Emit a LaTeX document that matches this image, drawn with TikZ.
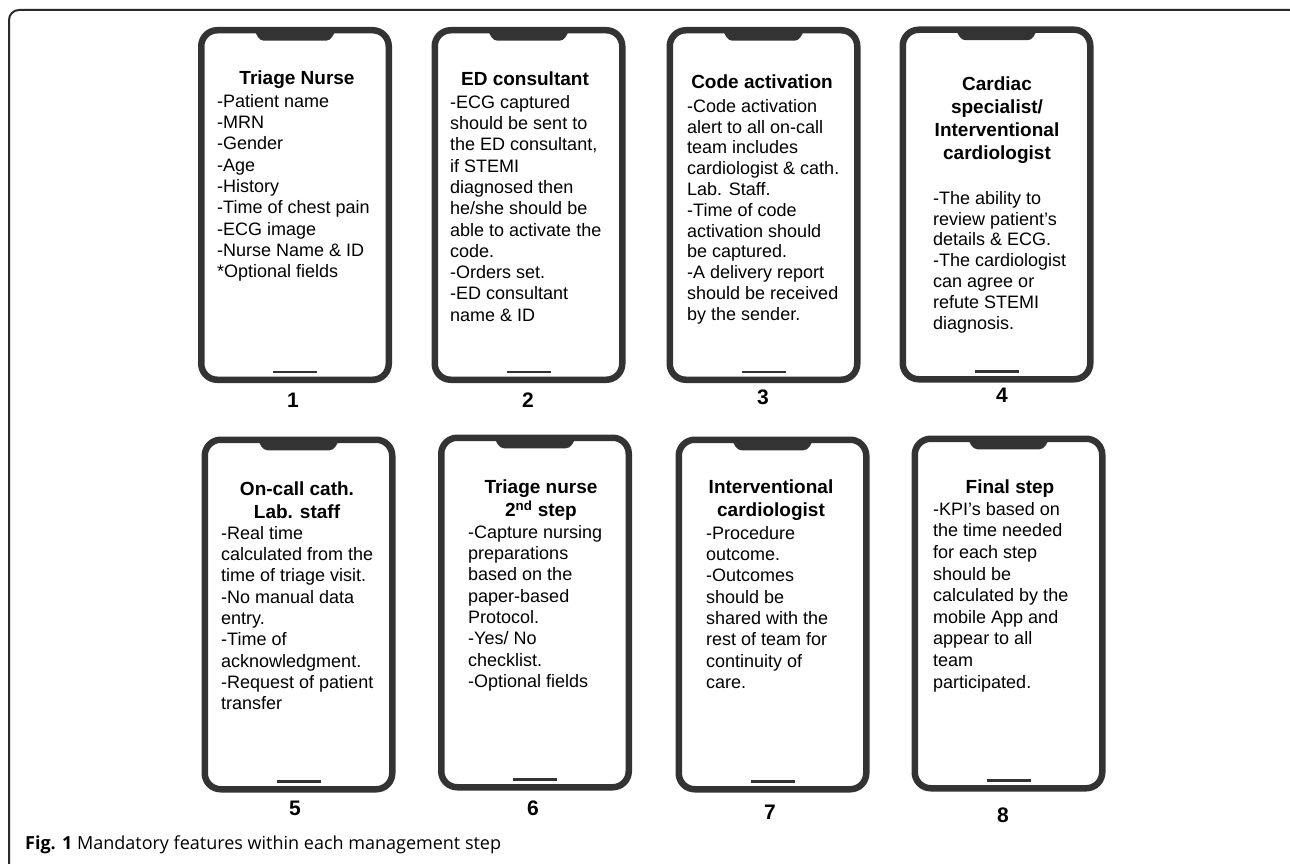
\documentclass[tikz,border=0pt]{standalone}
\usepackage{fontspec}
\setmainfont{Liberation Sans}
\newfontfamily\capfont{Open Sans}
\usetikzlibrary{calc}
\definecolor{phonegray}{HTML}{333333}
\definecolor{framegray}{HTML}{2A2A2A}
\tikzset{
  phone/.style={draw=phonegray, line width=6.5pt, rounded corners=16pt, minimum width=187.5pt, minimum height=349.5pt, inner sep=0pt, outer sep=0pt},
  ptitle/.style={font=\fontsize{19}{22.7}\selectfont\bfseries, align=center, anchor=north, inner sep=0pt},
  pbody/.style={font=\fontsize{18}{21.3}\selectfont, align=left, anchor=north west, inner sep=0pt},
  pbodyt/.style={pbody, font=\fontsize{18}{20.8}\selectfont},
  pbodyw/.style={pbody, font=\fontsize{18}{21.6}\selectfont},
  pnum/.style={font=\fontsize{21}{24}\selectfont\bfseries, inner sep=0pt},
  notch/.style={fill=phonegray, rounded corners=4pt},
  homebar/.style={draw=phonegray, line width=2.5pt},
  framebox/.style={draw=framegray, line width=2pt, rounded corners=10pt},
}
\newcommand\drawphone[3]{%
  \node[phone] (#1) at (#2,#3) {};
  \fill[notch] ($(#1.north)+(-42,-2)$) -- ($(#1.north)+(-35,10.5)$) -- ($(#1.north)+(35,10.5)$) -- ($(#1.north)+(42,-2)$) -- cycle;
  \draw[homebar] ($(#1.south)+(-22,-8)$) -- ($(#1.south)+(22,-8)$);
}
\begin{document}
\begin{tikzpicture}[x=1pt, y=-1pt]
\useasboundingbox (0,0) rectangle (1290,864);
\begin{scope}
  \clip (0,0) rectangle (1290,864);
  \draw[framebox] (9,900) -- (9,10) -- (1300,10) -- (1300,900);
\end{scope}

% top row
\drawphone{p1}{295}{205}
\drawphone{p2}{528.5}{205}
\drawphone{p3}{763.5}{205}
\drawphone{p4}{996.5}{204.5}
% bottom row
\drawphone{p5}{298.5}{614.5}
\drawphone{p6}{535}{612.5}
\drawphone{p7}{772.5}{614.5}
\drawphone{p8}{1008.5}{613.5}

% phone 1
\node[ptitle] (t1) at (297,71) {Triage Nurse};
\node[pbody] (b1) at (217,94) {-Patient name\\-MRN\\-Gender\\-Age\\-History\\-Time of chest pain\\-ECG image\\-Nurse Name \& ID\\*Optional fields};
% phone 2
\node[ptitle] (t2) at (525,72) {ED consultant};
\node[pbody] (b2) at (450,95) {-ECG captured\\should be sent to\\the ED consultant,\\if STEMI\\diagnosed then\\he/she should be\\able to activate the\\code.\\-Orders set.\\-ED consultant\\name \& ID};
% phone 3
\node[ptitle] (t3) at (762,75) {Code activation};
\node[pbodyt] (b3) at (687,99) {-Code activation\\alert to all on-call\\team includes\\cardiologist \& cath.\\Lab. Staff.\\-Time of code\\activation should\\be captured.\\-A delivery report\\should be received\\by the sender.};
% phone 4
\node[ptitle] (t4) at (997,77) {Cardiac\\specialist/\\Interventional\\cardiologist};
\node[pbodyt] (b4) at (933,191) {-The ability to\\review patient's\\details \& ECG.\\-The cardiologist\\can agree or\\refute STEMI\\diagnosis.};
% phone 5
\node[ptitle] (t5) at (297,482) {On-call cath.\\Lab. staff};
\node[pbody] (b5) at (221,526) {-Real time\\calculated from the\\time of triage visit.\\-No manual data\\entry.\\-Time of\\acknowledgment.\\-Request of patient\\transfer};
% phone 6
\node[ptitle] (t6) at (541,480) {Triage nurse\\2\textsuperscript{nd} step};
\node[pbody] (b6) at (468,525) {-Capture nursing\\preparations\\based on the\\paper-based\\Protocol.\\-Yes/ No\\checklist.\\-Optional fields};
% phone 7
\node[ptitle] (t7) at (771,480) {Interventional\\cardiologist};
\node[pbody] (b7) at (706,526) {-Procedure\\outcome.\\-Outcomes\\should be\\shared with the\\rest of team for\\continuity of\\care.};
% phone 8
\node[ptitle] (t8) at (1010,480) {Final step};
\node[pbodyw] (b8) at (933,502) {-KPI's based on\\the time needed\\for each step\\should be\\calculated by the\\mobile App and\\appear to all\\team\\participated.};

% numbers
\node[pnum] (n1) at (293,400) {1};
\node[pnum] (n2) at (528,400) {2};
\node[pnum] (n3) at (763,397) {3};
\node[pnum] (n4) at (1002,395) {4};
\node[pnum] (n5) at (295,808) {5};
\node[pnum] (n6) at (533,808) {6};
\node[pnum] (n7) at (770,812) {7};
\node[pnum] (n8) at (1003,815) {8};

% caption
\node[anchor=base west, inner sep=0pt, font=\capfont\fontsize{18}{22}\selectfont] (cap) at (25,849) {\textbf{Fig. 1} Mandatory features within each management step};
\end{tikzpicture}
\end{document}
